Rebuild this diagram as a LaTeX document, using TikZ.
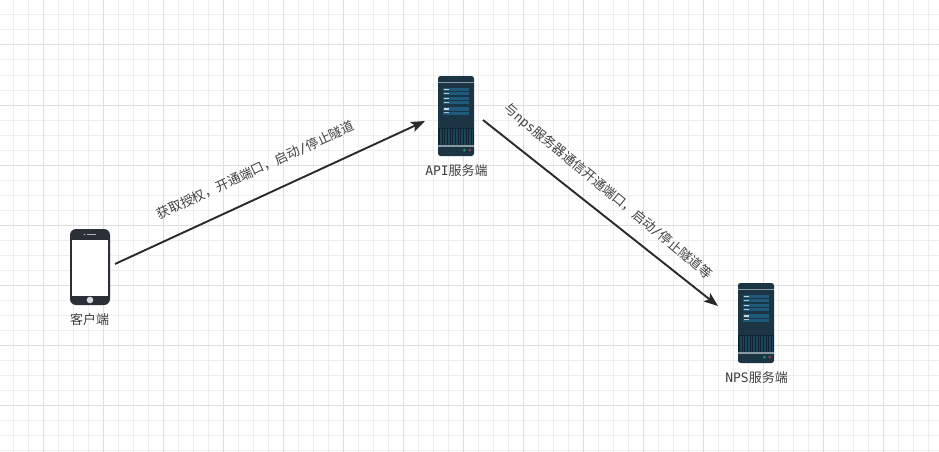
\documentclass[tikz,border=0pt]{standalone}
\usepackage{fontspec}
\usetikzlibrary{arrows.meta,calc}
\newfontfamily\cjk{Noto Sans CJK SC}
\newfontfamily\lat{DejaVu Sans Mono}
\newcommand\fwcomma{\char"FF0C\relax}
\definecolor{gridminor}{HTML}{EEEEEE}
\definecolor{gridmajor}{HTML}{DEDEDE}
\definecolor{ink}{HTML}{2A2A2A}
\definecolor{txt}{HTML}{404040}
\definecolor{srvbody}{HTML}{1C3545}
\definecolor{srvpanel}{HTML}{1F5A7C}
\definecolor{srvline}{HTML}{8A9AA3}
\definecolor{srvgrill}{HTML}{0E2230}
\definecolor{srvslot}{HTML}{1D4459}
\definecolor{ledgreen}{HTML}{1F9070}
\definecolor{ledred}{HTML}{A83050}
\definecolor{phonebody}{HTML}{2B2F38}
\tikzset{
  x=1pt,y=-1pt,
  label text/.style={inner sep=0pt,text=txt,font=\cjk\fontsize{13}{15}\selectfont},
  anchor box/.style={inner sep=0pt,outer sep=0pt,minimum width=#1},
  link/.style={ink,line width=1.9pt,-{Stealth[length=14pt,width=10.5pt,inset=3pt]}},
  server/.pic={
    \fill[srvbody,rounded corners=2.5pt] (-18,-40) rectangle (18,40);
    \fill[srvline] (-18,-34.4) rectangle (18,-33.2);
    \foreach \py in {-28.5,-19.5,-9}{
      \fill[srvpanel] (-13,\py) rectangle (13,\py+7.6);
      \fill[white!75!srvpanel] (-12,\py+1.3) rectangle (-7,\py+2.5);
      \fill[white!65!srvpanel] (-12,\py+5) rectangle (-7,\py+6.2);
      \draw[srvbody,line width=.4pt] (-13,\py+3.8) -- (13,\py+3.8);
    }
    \fill[srvgrill] (-18,11.5) rectangle (18,29);
    \foreach \gx in {-16,-14.4,...,16.5}{
      \draw[srvslot,line width=.5pt] (\gx,12.5) -- (\gx,28.5);
    }
    \fill[srvline] (-18,29) rectangle (18,30.6);
    \fill[ledgreen] (8.3,34.2) circle (1.5);
    \fill[ledred] (13.7,34.2) circle (1.5);
  }
}
\begin{document}
\begin{tikzpicture}
\useasboundingbox (0,0) rectangle (939,452);
\fill[white] (0,0) rectangle (939,452);
\foreach \i in {0,...,62}{\draw[gridminor,line width=1pt] ({\i*15-1.5},0) -- ({\i*15-1.5},452);}
\foreach \i in {0,...,30}{\draw[gridminor,line width=1pt] (0,{\i*15}) -- (939,{\i*15});}
\foreach \i in {0,...,15}{\draw[gridmajor,line width=1pt] ({\i*60+43.5},0) -- ({\i*60+43.5},452);}
\foreach \i in {0,...,7}{\draw[gridmajor,line width=1pt] (0,{\i*60+45}) -- (939,{\i*60+45});}

% phone
\node[anchor box=40pt,minimum height=76pt] (phone) at (90,267) {};
\fill[phonebody,rounded corners=6pt] (70,229) rectangle (110,305);
\fill[white] (72.3,239.5) rectangle (107.7,296);
\fill[white!85!black] (90,300) circle (3.3);
\fill[white!70!black] (84.5,234.5) circle (0.9);
\fill[white!70!black] (87,234.1) rectangle (96,234.9);
\node[label text] (phonelabel) at (89.5,319.5) {客户端};

% API server
\node[anchor box=36pt,minimum height=80pt] (api) at (456,116) {};
\pic at (api.center) {server};
\node[label text] (apilabel) at (456.5,170.5) {{\lat API}服务端};

% NPS server
\node[anchor box=36pt,minimum height=80pt] (nps) at (756,323) {};
\pic at (nps.center) {server};
\node[label text] (npslabel) at (756.5,377.5) {{\lat NPS}服务端};

% connectors
\draw[link] ([shift={(5,-3)}]phone.east) -- ([shift={(-13,5)}]api.west);
\draw[link] ([shift={(9,4)}]api.east) -- ([shift={(-20,-17)}]nps.west);

% connector labels
\node[label text,rotate=24.6] (l1) at (255.5,170) {获取授权\fwcomma 开通端口\fwcomma 启动{\lat /}停止隧道};
\node[label text,rotate=-39.7] (l2) at (607.8,191.5) {与{\lat nps}服务器通信开通端口\fwcomma 启动{\lat /}停止隧道等};
\end{tikzpicture}
\end{document}
